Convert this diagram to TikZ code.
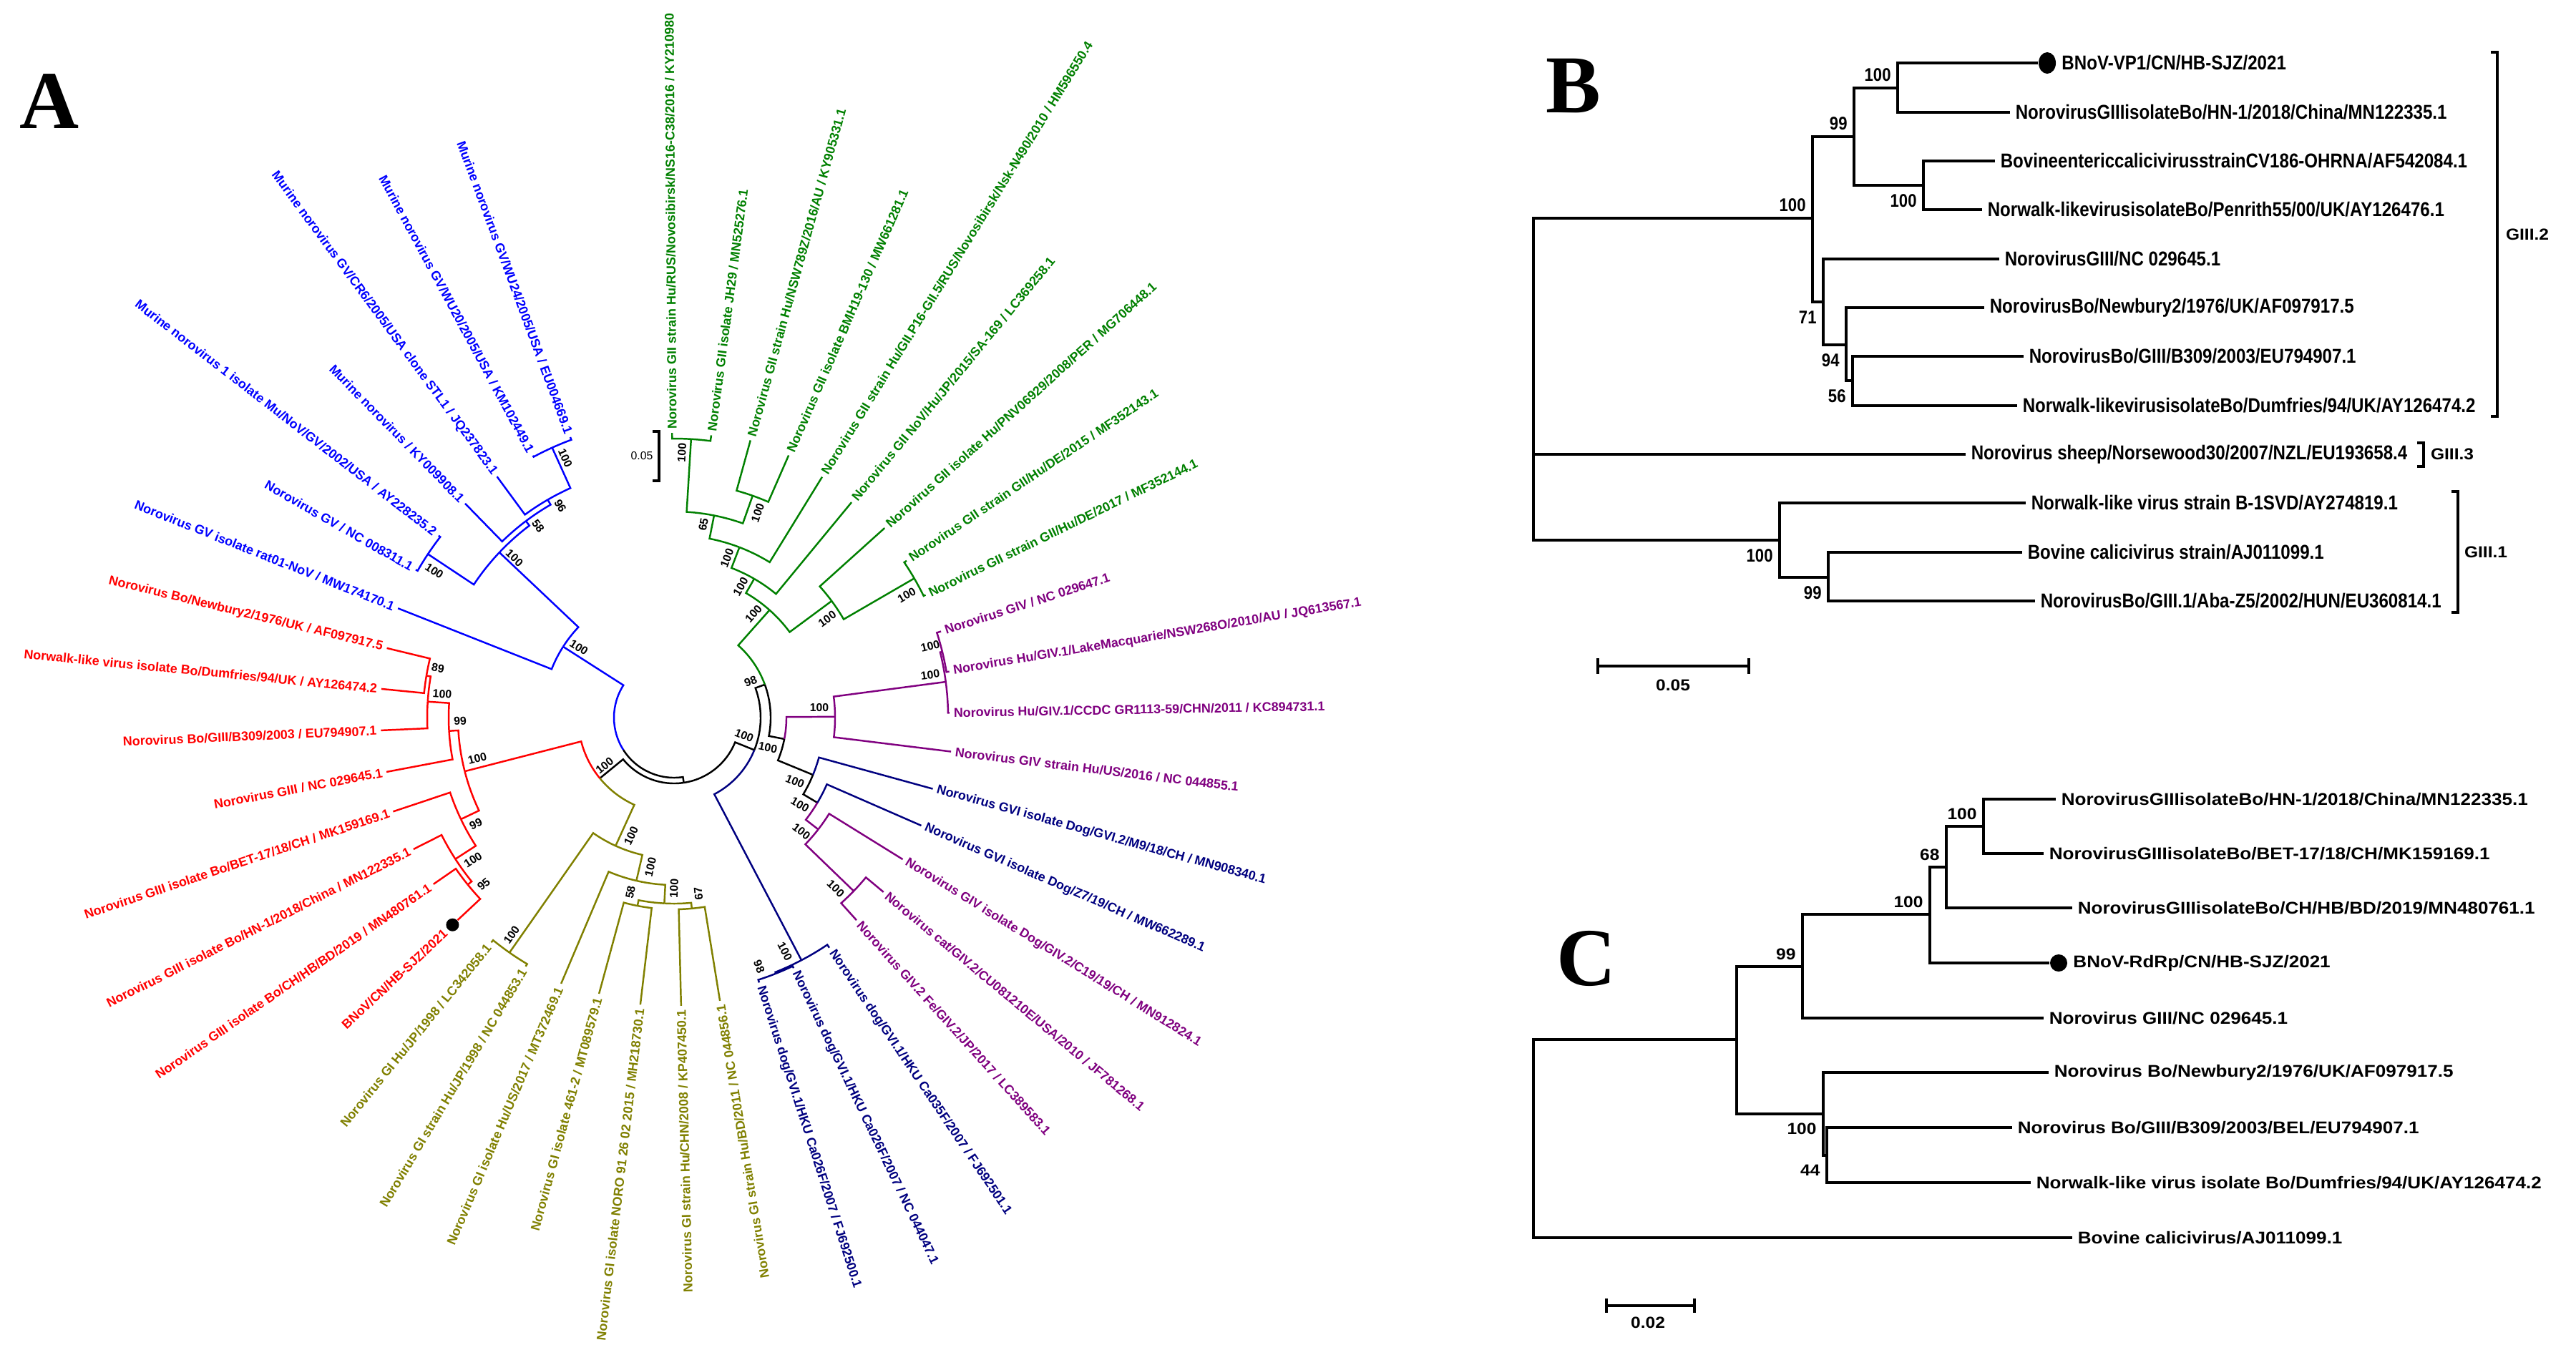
\documentclass[tikz,border=0pt]{standalone}
\usepackage{fontspec}
\usepackage{xcolor}
\usepackage{tikz}
\usetikzlibrary{positioning,shapes.geometric}
\setmainfont{Liberation Serif}
\newfontfamily\aFont{Liberation Sans}
\newfontfamily\bFont{Liberation Sans}[FakeStretch=0.86]
\newfontfamily\cFont{Liberation Sans}[FakeStretch=1.1]
\definecolor{gvBlue}{RGB}{0,0,255}
\definecolor{giiGreen}{RGB}{0,128,0}
\definecolor{giiiRed}{RGB}{255,0,0}
\definecolor{givPurple}{RGB}{128,0,128}
\definecolor{gviNavy}{RGB}{0,0,128}
\definecolor{giOlive}{RGB}{128,128,0}
\tikzset{
  armA/.style={line width=0.7pt},
  leafA/.style={font=\aFont\bfseries\fontsize{5.1}{6}\selectfont, inner xsep=1.5pt, inner ysep=0pt},
  bootA/.style={font=\aFont\bfseries\fontsize{4.5}{5}\selectfont, inner sep=0pt},
  armB/.style={line width=0.95pt},
  leafB/.style={font=\bFont\bfseries\fontsize{7.97}{9}\selectfont, anchor=west, inner xsep=2pt, inner ysep=0pt},
  bootB/.style={font=\bFont\bfseries\fontsize{7.3}{8}\selectfont, inner sep=1pt},
  leafC/.style={font=\cFont\bfseries\fontsize{6.74}{8}\selectfont, anchor=west, inner xsep=2pt, inner ysep=0pt},
  bootC/.style={font=\cFont\bfseries\fontsize{6.35}{7}\selectfont, inner sep=1pt},
  panel/.style={font=\bfseries\fontsize{32.7}{34}\selectfont, inner sep=0pt, anchor=base west},
}
\newcommand{\treearm}[5][black]{\draw[armA,#1] (#2:#3) arc[start angle=#2,end angle=#4,radius=#3] -- #5;}
\newcommand{\leafR}[5]{\node[leafA,text=#2,anchor=west,rotate=#3] (#1) at (#3:#4) {#5};}
\newcommand{\leafL}[5]{\node[leafA,text=#2,anchor=east,rotate=#3-180] (#1) at (#3:#4) {#5};}

\begin{document}
\begin{tikzpicture}[x=0.01cm,y=-0.01cm]
\fill[white] (0,0) rectangle (3600,1874);

\node[panel] (pA) at (27,179) {A};
\node[panel] (pB) at (2160,157) {B};
\node[panel] (pC) at (2175,1377) {C};

\begin{scope}[shift={(942,1003)},y=0.01cm]
\coordinate (b0) at (147.4:184);
\coordinate (nX) at (278.5:92);
\coordinate (nRO) at (219.3:134);
\coordinate (nP) at (-22:121);
\coordinate (ra) at (194.4:302);
\coordinate (gi0) at (245.5:197);
\coordinate (n98) at (20:135);
\coordinate (gvi1) at (-62.3:383);
\coordinate (g0) at (48.4:201);
\coordinate (nQ) at (-11:157);
\coordinate (giv) at (0.3:225);
\coordinate (nS) at (-22.4:210);
\coordinate (giv1) at (7.5:383);
\coordinate (giv1a) at (13.8:386);
\coordinate (nT) at (-30.7:233);
\coordinate (nU) at (-37.8:255);
\coordinate (nV) at (-44:349);
\coordinate (gvi98) at (-68.3:385);
\coordinate (g1) at (60:224);
\coordinate (g6) at (36.5:274);
\coordinate (g2) at (69:255);
\coordinate (g3) at (78.8:288);
\coordinate (g5) at (86.5:390);
\coordinate (g4) at (70.5:329);
\coordinate (g7) at (30.1:388);
\coordinate (rb) at (183.4:315);
\coordinate (re) at (205.5:330);
\coordinate (rc) at (176.3:345);
\coordinate (rd) at (170.4:351);
\coordinate (rf) at (212.9:364);
\coordinate (rg) at (219:371);
\coordinate (ga) at (235:401);
\coordinate (gb) at (257:234);
\coordinate (gc) at (267:260);
\coordinate (gd) at (259:268);
\coordinate (ge) at (275.3:268);
\coordinate (b1) at (136.6:336);
\coordinate (b3) at (146.4:413);
\coordinate (b2) at (127:344);
\coordinate (b4) at (120.1:352);
\coordinate (b5) at (114.3:414);

\leafR{l1}{giiGreen}{90.4}{398}{Norovirus GII strain Hu/RUS/Novosibirsk/NS16-C38/2016 / KY210980}
\leafR{l2}{giiGreen}{82.5}{398}{Norovirus GII isolate JH29 / MN525276.1}
\leafR{l3}{giiGreen}{74.6}{402}{Norovirus GII strain Hu/NSW789Z/2016/AU / KY905331.1}
\leafR{l4}{giiGreen}{66.4}{400}{Norovirus GII isolate BMH19-130 / MW661281.1}
\leafR{l5}{giiGreen}{58.4}{395}{Norovirus GII strain Hu/GII.P16-GII.5/RUS/Novosibirsk/Nsk-N490/2010 / HM596550.4}
\leafR{l6}{giiGreen}{50.5}{390}{Norovirus GII NoV/Hu/JP/2015/SA-169 / LC369258.1}
\leafR{l7}{giiGreen}{42}{396}{Norovirus GII isolate Hu/PNV06929/2008/PER / MG706448.1}
\leafR{l8}{giiGreen}{34}{392}{Norovirus GII strain GII/Hu/DE/2015 / MF352143.1}
\leafR{l9}{giiGreen}{26}{391}{Norovirus GII strain GII/Hu/DE/2017 / MF352144.1}
\leafR{l10}{givPurple}{17.9}{392}{Norovirus GIV / NC 029647.1}
\leafR{l11}{givPurple}{9.5}{390}{Norovirus Hu/GIV.1/LakeMacquarie/NSW268O/2010/AU / JQ613567.1}
\leafR{l12}{givPurple}{1}{385}{Norovirus Hu/GIV.1/CCDC GR1113-59/CHN/2011 / KC894731.1}
\leafR{l13}{givPurple}{-7}{390}{Norovirus GIV strain Hu/US/2016 / NC 044855.1}
\leafR{l14}{gviNavy}{-15.4}{375}{Norovirus GVI isolate Dog/GVI.2/M9/18/CH / MN908340.1}
\leafR{l15}{gviNavy}{-23.6}{377}{Norovirus GVI isolate Dog/Z7/19/CH / MW662289.1}
\leafR{l16}{givPurple}{-31.8}{376}{Norovirus GIV isolate Dog/GIV.2/C19/19/CH / MN912824.1}
\leafR{l17}{givPurple}{-39.8}{381}{Norovirus cat/GIV.2/CU081210E/USA/2010 / JF781268.1}
\leafR{l18}{givPurple}{-48}{381}{Norovirus GIV.2 Fe/GIV.2/JP/2017 / LC389583.1}
\leafR{l19}{gviNavy}{-56}{388}{Norovirus dog/GVI.1/HKU Ca035F/2007 / FJ692501.1}
\leafR{l20}{gviNavy}{-64.5}{388}{Norovirus dog/GVI.1/HKU Ca026F/2007 / NC 044047.1}
\leafR{l21}{gviNavy}{-72.2}{389}{Norovirus dog/GVI.1/HKU Ca026F/2007 / FJ692500.1}
\leafL{l22}{giOlive}{279.2}{401}{Norovirus GI strain Hu/BD/2011 / NC 044856.1}
\leafL{l23}{giOlive}{271.4}{403}{Norovirus GI strain Hu/CHN/2008 / KP407450.1}
\leafL{l24}{giOlive}{263.3}{404}{Norovirus GI isolate NORO 91 26 02 2015 / MH218730.1}
\leafL{l25}{giOlive}{254.8}{400}{Norovirus GI isolate 461-2 / MT089579.1}
\leafL{l26}{giOlive}{247}{404}{Norovirus GI isolate Hu/US/2017 / MT372469.1}
\leafL{l27}{giOlive}{239.2}{405}{Norovirus GI strain Hu/JP/1998 / NC 044853.1}
\leafL{l28}{giOlive}{230.9}{405}{Norovirus GI Hu/JP/1998 / LC342058.1}
\node[circle,fill=black,inner sep=0pt,minimum size=0.18cm] (dotA) at (223.1:424) {};
\leafL{l29}{giiiRed}{223.1}{432}{BNoV/CN/HB-SJZ/2021}
\leafL{l30}{giiiRed}{214.7}{409}{Norovirus GIII isolate Bo/CH/HB/BD/2019 / MN480761.1}
\leafL{l31}{giiiRed}{206.8}{408}{Norovirus GIII isolate Bo/HN-1/2018/China / MN122335.1}
\leafL{l32}{giiiRed}{198.5}{414}{Norovirus GIII isolate Bo/BET-17/18/CH / MK159169.1}
\leafL{l33}{giiiRed}{190.7}{409}{Norovirus GIII / NC 029645.1}
\leafL{l34}{giiiRed}{182.5}{410}{Norovirus Bo/GIII/B309/2003 / EU794907.1}
\leafL{l35}{giiiRed}{174.4}{411}{Norwalk-like virus isolate Bo/Dumfries/94/UK / AY126474.2}
\leafL{l36}{giiiRed}{166.4}{413}{Norovirus Bo/Newbury2/1976/UK / AF097917.5}
\leafL{l37}{gvBlue}{158.4}{415}{Norovirus GV isolate rat01-NoV / MW174170.1}
\leafL{l38}{gvBlue}{150.2}{416}{Norovirus GV / NC 008311.1}
\leafL{l39}{gvBlue}{142.3}{416}{Murine norovirus 1 isolate Mu/NoV/GV/2002/USA / AY228235.2}
\leafL{l40}{gvBlue}{134.3}{418}{Murine norovirus / KY009908.1}
\leafL{l41}{gvBlue}{126.3}{418}{Murine norovirus GV/CR6/2005/USA clone STL1 / JQ237823.1}
\leafL{l42}{gvBlue}{118.3}{416}{Murine norovirus GV/WU20/2005/USA / KM102449.1}
\leafL{l43}{gvBlue}{110.3}{418}{Murine norovirus GV/WU24/2005/USA / EU004669.1}

\treearm[gvBlue]{212.5}{84}{147.4}{(b0)}
\treearm{212.5}{84}{278.5}{(nX)}
\treearm{278.5}{92}{219.3}{(nRO)}
\treearm{278.5}{92}{338}{(nP)}
\treearm[giiiRed]{219.3}{134}{194.4}{(ra)}
\treearm[giOlive]{219.3}{134}{245.5}{(gi0)}
\treearm{-22}{121}{20}{(n98)}
\treearm[gviNavy]{-22}{121}{-62.3}{(gvi1)}
\treearm[giiGreen]{20}{135}{48.4}{(g0)}
\treearm{20}{135}{-11}{(nQ)}
\treearm[givPurple]{-11}{157}{0.3}{(giv)}
\treearm{-11}{157}{-22.4}{(nS)}
\treearm[givPurple]{0.3}{225}{7.5}{(giv1)}
\treearm[givPurple]{0.3}{225}{-7}{(l13.west)}
\treearm[givPurple]{7.5}{383}{13.8}{(giv1a)}
\treearm[givPurple]{7.5}{383}{1}{(l12.west)}
\treearm[givPurple]{13.8}{386}{17.9}{(l10.west)}
\treearm[givPurple]{13.8}{386}{9.5}{(l11.west)}
\treearm[gviNavy]{-22.4}{210}{-15.4}{(l14.west)}
\treearm{-22.4}{210}{-30.7}{(nT)}
\treearm[gviNavy]{-30.7}{233}{-23.6}{(l15.west)}
\treearm[givPurple]{-30.7}{233}{-37.8}{(nU)}
\treearm[givPurple]{-37.8}{255}{-31.8}{(l16.west)}
\treearm[givPurple]{-37.8}{255}{-44}{(nV)}
\treearm[givPurple]{-44}{349}{-39.8}{(l17.west)}
\treearm[givPurple]{-44}{349}{-48}{(l18.west)}
\treearm[gviNavy]{-62.3}{383}{-56}{(l19.west)}
\treearm[gviNavy]{-62.3}{383}{-68.3}{(gvi98)}
\treearm[gviNavy]{-68.3}{385}{-64.5}{(l20.west)}
\treearm[gviNavy]{-68.3}{385}{-72.2}{(l21.west)}
\treearm[giiGreen]{48.4}{201}{60}{(g1)}
\treearm[giiGreen]{48.4}{201}{36.5}{(g6)}
\treearm[giiGreen]{60}{224}{69}{(g2)}
\treearm[giiGreen]{60}{224}{50.5}{(l6.west)}
\treearm[giiGreen]{69}{255}{78.8}{(g3)}
\treearm[giiGreen]{69}{255}{58.4}{(l5.west)}
\treearm[giiGreen]{78.8}{288}{86.5}{(g5)}
\treearm[giiGreen]{78.8}{288}{70.5}{(g4)}
\treearm[giiGreen]{70.5}{329}{74.6}{(l3.west)}
\treearm[giiGreen]{70.5}{329}{66.4}{(l4.west)}
\treearm[giiGreen]{86.5}{390}{90.4}{(l1.west)}
\treearm[giiGreen]{86.5}{390}{82.5}{(l2.west)}
\treearm[giiGreen]{36.5}{274}{42}{(l7.west)}
\treearm[giiGreen]{36.5}{274}{30.1}{(g7)}
\treearm[giiGreen]{30.1}{388}{34}{(l8.west)}
\treearm[giiGreen]{30.1}{388}{26}{(l9.west)}
\treearm[giiiRed]{194.4}{302}{183.4}{(rb)}
\treearm[giiiRed]{194.4}{302}{205.5}{(re)}
\treearm[giiiRed]{183.4}{315}{190.7}{(l33.east)}
\treearm[giiiRed]{183.4}{315}{176.3}{(rc)}
\treearm[giiiRed]{176.3}{345}{170.4}{(rd)}
\treearm[giiiRed]{176.3}{345}{182.5}{(l34.east)}
\treearm[giiiRed]{170.4}{351}{174.4}{(l35.east)}
\treearm[giiiRed]{170.4}{351}{166.4}{(l36.east)}
\treearm[giiiRed]{205.5}{330}{198.5}{(l32.east)}
\treearm[giiiRed]{205.5}{330}{212.9}{(rf)}
\treearm[giiiRed]{212.9}{364}{206.8}{(l31.east)}
\treearm[giiiRed]{212.9}{364}{219}{(rg)}
\treearm[giiiRed]{219}{371}{214.7}{(l30.east)}
\treearm[giiiRed]{219}{371}{223.1}{(dotA)}
\treearm[giOlive]{245.5}{197}{235}{(ga)}
\treearm[giOlive]{245.5}{197}{257}{(gb)}
\treearm[giOlive]{235}{401}{230.9}{(l28.east)}
\treearm[giOlive]{235}{401}{239.2}{(l27.east)}
\treearm[giOlive]{257}{234}{247}{(l26.east)}
\treearm[giOlive]{257}{234}{267}{(gc)}
\treearm[giOlive]{267}{260}{259}{(gd)}
\treearm[giOlive]{267}{260}{275.3}{(ge)}
\treearm[giOlive]{259}{268}{254.8}{(l25.east)}
\treearm[giOlive]{259}{268}{263.3}{(l24.east)}
\treearm[giOlive]{275.3}{268}{271.4}{(l23.east)}
\treearm[giOlive]{275.3}{268}{279.2}{(l22.east)}
\treearm[gvBlue]{147.4}{184}{136.6}{(b1)}
\treearm[gvBlue]{147.4}{184}{158.4}{(l37.east)}
\treearm[gvBlue]{136.6}{336}{146.4}{(b3)}
\treearm[gvBlue]{136.6}{336}{127}{(b2)}
\treearm[gvBlue]{146.4}{413}{142.3}{(l39.east)}
\treearm[gvBlue]{146.4}{413}{150.2}{(l38.east)}
\treearm[gvBlue]{127}{344}{134.3}{(l40.east)}
\treearm[gvBlue]{127}{344}{120.1}{(b4)}
\treearm[gvBlue]{120.1}{352}{126.3}{(l41.east)}
\treearm[gvBlue]{120.1}{352}{114.3}{(b5)}
\treearm[gvBlue]{114.3}{414}{118.3}{(l42.east)}
\treearm[gvBlue]{114.3}{414}{110.3}{(l43.east)}
\end{scope}

\foreach \px/\py/\bv/\ang [count=\i] in {790/640/100/-65.7, 783/707/96/-60, 752/735/58/-53, 719/780/100/-43.4,
  607/798/100/-33.6, 809/905/100/-32.6, 667/1060/100/14.4, 643/1008/99/3.4, 618/970/100/-3.7, 612/934/89/-9.6,
  665/1152/99/25.5, 661/1202/100/32.9, 676/1236/95/39, 882/1168/100/65.5, 715/1307/100/55, 909/1212/100/77,
  942/1242/100/87, 881/1247/58/79, 976/1249/67/95.3, 845/1070/100/39.3, 1097/1330/100/-62.3, 1061/1351/98/-68.3,
  1168/1242/100/-44, 1120/1162/100/-37.8, 1118/1125/100/-30.7, 1111/1092/100/-22.4, 1073/1045/100/-11,
  1040/1028/100/-22, 1145/989/100/0.3, 1300/943/100/7.5, 1300/903/100/13.8, 1049/952/98/20, 1053/858/100/48.4,
  1035/820/100/60, 1016/780/100/69, 983/733/65/78.8, 1059/717/100/70.5, 953/633/100/86.5, 1156/865/100/36.5,
  1267/832/100/30.1}
  \node[bootA,rotate=\ang] (bt\i) at (\px,\py) {\bv};

\draw[line width=0.9pt] (912,603) -- (921,603) -- (921,672) -- (912,672);
\node[font=\aFont\fontsize{4.5}{5}\selectfont, inner sep=0pt] (sbA) at (897,637) {0.05};

\coordinate (bRoot) at (2143,530);
\coordinate (b100a) at (2533,305);
\coordinate (b99a) at (2591,191);
\coordinate (b100b) at (2652,123);
\coordinate (b100c) at (2688,259);
\coordinate (b71) at (2548,422);
\coordinate (b94) at (2580,482);
\coordinate (b56) at (2589,532);
\coordinate (b100d) at (2487,755);
\coordinate (b99b) at (2555,807);

\node[ellipse,fill=black,inner sep=0pt,minimum width=0.24cm,minimum height=0.30cm] (bDot) at (2861,88) {};
\node[leafB, right=0pt of bDot] (bVP1) {BNoV-VP1/CN/HB-SJZ/2021};
\node[leafB] (bHN1) at (2809,157) {NorovirusGIIIisolateBo/HN-1/2018/China/MN122335.1};
\node[leafB] (bCV186) at (2788,225) {BovineentericcalicivirusstrainCV186-OHRNA/AF542084.1};
\node[leafB] (bPen) at (2770,293) {Norwalk-likevirusisolateBo/Penrith55/00/UK/AY126476.1};
\node[leafB] (bNC) at (2794,362) {NorovirusGIII/NC 029645.1};
\node[leafB] (bNew) at (2773,430) {NorovirusBo/Newbury2/1976/UK/AF097917.5};
\node[leafB] (bB309) at (2828,498) {NorovirusBo/GIII/B309/2003/EU794907.1};
\node[leafB] (bDum) at (2819,567) {Norwalk-likevirusisolateBo/Dumfries/94/UK/AY126474.2};
\node[leafB] (bSheep) at (2747,635) {Norovirus sheep/Norsewood30/2007/NZL/EU193658.4};
\node[leafB] (bB1) at (2831,703) {Norwalk-like virus strain B-1SVD/AY274819.1};
\node[leafB] (bBov) at (2826,772) {Bovine calicivirus strain/AJ011099.1};
\node[leafB] (bAba) at (2844,840) {NorovirusBo/GIII.1/Aba-Z5/2002/HUN/EU360814.1};

\draw[armB] (bRoot) |- (b100a);
\draw[armB] (bRoot) |- (bSheep.west);
\draw[armB] (bRoot) |- (b100d);
\draw[armB] (b100a) |- (b99a);
\draw[armB] (b100a) |- (b71);
\draw[armB] (b99a) |- (b100b);
\draw[armB] (b99a) |- (b100c);
\draw[armB] (b100b) |- (bDot);
\draw[armB] (b100b) |- (bHN1.west);
\draw[armB] (b100c) |- (bCV186.west);
\draw[armB] (b100c) |- (bPen.west);
\draw[armB] (b71) |- (bNC.west);
\draw[armB] (b71) |- (b94);
\draw[armB] (b94) |- (bNew.west);
\draw[armB] (b94) |- (b56);
\draw[armB] (b56) |- (bB309.west);
\draw[armB] (b56) |- (bDum.west);
\draw[armB] (b100d) |- (bB1.west);
\draw[armB] (b100d) |- (b99b);
\draw[armB] (b99b) |- (bBov.west);
\draw[armB] (b99b) |- (bAba.west);

\node[bootB, above left=1.5pt and 1.5pt of b100a] (tb1) {100};
\node[bootB, above left=1.5pt and 1.5pt of b99a] (tb2) {99};
\node[bootB, above left=1.5pt and 1.5pt of b100b] (tb3) {100};
\node[bootB, below left=2.5pt and 1.5pt of b100c] (tb4) {100};
\node[bootB, below left=2.5pt and 1.5pt of b71] (tb5) {71};
\node[bootB, below left=2.5pt and 1.5pt of b94] (tb6) {94};
\node[bootB, below left=2.5pt and 1.5pt of b56] (tb7) {56};
\node[bootB, below left=2.5pt and 1.5pt of b100d] (tb8) {100};
\node[bootB, below left=2.5pt and 1.5pt of b99b] (tb9) {99};

\draw[armB] (3481,73) -- (3490,73) -- (3490,582) -- (3481,582);
\node[bootC] (gIIItwo) at (3532,328) {GIII.2};
\draw[armB] (3378,619) -- (3387,619) -- (3387,652) -- (3378,652);
\node[bootC] (gIIIthree) at (3427,635) {GIII.3};
\draw[armB] (3426,687) -- (3435,687) -- (3435,856) -- (3426,856);
\node[bootC] (gIIIone) at (3474,772) {GIII.1};

\draw[armB] (2233,920) -- (2233,942) (2233,931) -- (2444,931) (2444,920) -- (2444,942);
\node[bootC] (sbB) at (2338,958) {0.05};

\coordinate (cRoot) at (2143,1591);
\coordinate (cA) at (2427,1453);
\coordinate (c99) at (2519,1351);
\coordinate (c100a) at (2697,1278);
\coordinate (c68) at (2720,1212);
\coordinate (c100b) at (2772,1155);
\coordinate (c100c) at (2548,1557);
\coordinate (c44) at (2553,1615);

\node[leafC] (cHN1) at (2873,1117) {NorovirusGIIIisolateBo/HN-1/2018/China/MN122335.1};
\node[leafC] (cBET) at (2856,1193) {NorovirusGIIIisolateBo/BET-17/18/CH/MK159169.1};
\node[leafC] (cBD) at (2896,1269) {NorovirusGIIIisolateBo/CH/HB/BD/2019/MN480761.1};
\node[circle,fill=black,inner sep=0pt,minimum size=0.24cm] (cDot) at (2877,1346) {};
\node[leafC, right=0pt of cDot] (cRdRp) {BNoV-RdRp/CN/HB-SJZ/2021};
\node[leafC] (cNC) at (2856,1423) {Norovirus GIII/NC 029645.1};
\node[leafC] (cNew) at (2863,1499) {Norovirus Bo/Newbury2/1976/UK/AF097917.5};
\node[leafC] (cB309) at (2812,1576) {Norovirus Bo/GIII/B309/2003/BEL/EU794907.1};
\node[leafC] (cDum) at (2838,1653) {Norwalk-like virus isolate Bo/Dumfries/94/UK/AY126474.2};
\node[leafC] (cBov) at (2896,1730) {Bovine calicivirus/AJ011099.1};

\draw[armB] (cRoot) |- (cA);
\draw[armB] (cRoot) |- (cBov.west);
\draw[armB] (cA) |- (c99);
\draw[armB] (cA) |- (c100c);
\draw[armB] (c99) |- (c100a);
\draw[armB] (c99) |- (cNC.west);
\draw[armB] (c100a) |- (c68);
\draw[armB] (c100a) |- (cDot);
\draw[armB] (c68) |- (c100b);
\draw[armB] (c68) |- (cBD.west);
\draw[armB] (c100b) |- (cHN1.west);
\draw[armB] (c100b) |- (cBET.west);
\draw[armB] (c100c) |- (cNew.west);
\draw[armB] (c100c) |- (c44);
\draw[armB] (c44) |- (cB309.west);
\draw[armB] (c44) |- (cDum.west);

\node[bootC, above left=1.5pt and 1.5pt of c99] (tc1) {99};
\node[bootC, above left=1.5pt and 1.5pt of c100a] (tc2) {100};
\node[bootC, above left=1.5pt and 1.5pt of c68] (tc3) {68};
\node[bootC, above left=1.5pt and 1.5pt of c100b] (tc4) {100};
\node[bootC, below left=2.5pt and 1.5pt of c100c] (tc5) {100};
\node[bootC, below left=2.5pt and 1.5pt of c44] (tc6) {44};

\draw[armB] (2245,1815) -- (2245,1835) (2245,1825) -- (2368,1825) (2368,1815) -- (2368,1835);
\node[bootC] (sbC) at (2303,1849) {0.02};
\end{tikzpicture}
\end{document}
